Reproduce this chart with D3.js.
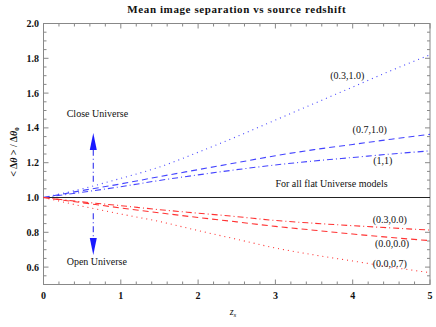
<!DOCTYPE html>
<html lang="en">
<head>
<meta charset="UTF-8">
<script src="https://cdn.jsdelivr.net/npm/d3@7"></script>
<style>
  body { margin: 0; background: #fff; }
  text { font-family: "Liberation Serif", "Times New Roman", serif; fill: #111; }
  .tick-label { font-weight: bold; font-size: 10px; }
  .note { font-size: 10px; }
</style>
</head>
<body>
<script>
// source redshift samples
const zs = [0, 0.5, 1, 1.5, 2, 2.5, 3, 3.5, 4, 4.5, 5];

// closed models (blue)
const close03_10 = [1.0, 1.05, 1.11, 1.175, 1.26, 1.35, 1.445, 1.54, 1.635, 1.73, 1.82];
const close07_10 = [1.0, 1.04, 1.078, 1.12, 1.16, 1.20, 1.24, 1.275, 1.305, 1.335, 1.363];
const close1_1   = [1.0, 1.03, 1.062, 1.098, 1.13, 1.16, 1.187, 1.21, 1.23, 1.25, 1.268];

// open models (red)
const open03_00 = [1.0, 0.975, 0.953, 0.93, 0.91, 0.89, 0.868, 0.852, 0.838, 0.825, 0.813];
const open00_00 = [1.0, 0.97, 0.94, 0.912, 0.885, 0.86, 0.834, 0.812, 0.79, 0.77, 0.752];
const open00_07 = [1.0, 0.95, 0.905, 0.862, 0.81, 0.76, 0.71, 0.67, 0.635, 0.60, 0.568];

const xTicks = [0, 1, 2, 3, 4, 5];
const yTicks = [0.6, 0.8, 1.0, 1.2, 1.4, 1.6, 1.8, 2.0];

const series = [
  {name: "(0.3,1.0)", vals: close03_10, color: "#4444ff", dash: "1,4", lz: 3.93, lv: 1.704},
  {name: "(0.7,1.0)", vals: close07_10, color: "#4444ff", dash: "6,4", lz: 4.22, lv: 1.388},
  {name: "(1,1)",     vals: close1_1,   color: "#4444ff", dash: "6,3,1,3", lz: 4.39, lv: 1.211},
  {name: "(0.3,0.0)", vals: open03_00,  color: "#ff3333", dash: "6,3,1,3", lz: 4.48, lv: 0.876},
  {name: "(0.0,0.0)", vals: open00_00,  color: "#ff3333", dash: "6,4", lz: 4.51, lv: 0.738},
  {name: "(0.0,0.7)", vals: open00_07,  color: "#ff3333", dash: "1,4", lz: 4.48, lv: 0.618}
];

const W = 436, H = 327;
const svg = d3.select("body").append("svg").attr("width", W).attr("height", H);

const x = d3.scaleLinear().domain([0, 5]).range([43.5, 430]);
const y = d3.scaleLinear().domain([0.5, 2.0]).range([284.5, 23.5]);

// title
svg.append("text")
  .attr("x", (x(0) + x(5)) / 2).attr("y", 13)
  .attr("text-anchor", "middle")
  .style("font-weight", "bold").style("font-size", "11px").style("letter-spacing", "0.6px")
  .text("Mean image separation vs source redshift");

// frame with mirrored ticks
const frame = svg.append("g");
const gray = "#888";
frame.append("rect")
  .attr("x", x(0)).attr("y", y(2.0))
  .attr("width", x(5) - x(0)).attr("height", y(0.5) - y(2.0))
  .attr("fill", "none").attr("stroke", gray).attr("stroke-width", 1);

const xMinor = d3.range(0, 5.001, 0.2).filter(v => Math.abs(v - Math.round(v)) > 1e-6);
const yMinor = d3.range(0.5, 2.001, 0.05).filter(v => Math.abs(v * 5 - Math.round(v * 5)) > 1e-6);

function xTickMarks(vals, len) {
  vals.forEach(v => {
    frame.append("line").attr("x1", x(v)).attr("x2", x(v))
      .attr("y1", y(0.5)).attr("y2", y(0.5) - len).attr("stroke", gray);
    frame.append("line").attr("x1", x(v)).attr("x2", x(v))
      .attr("y1", y(2.0)).attr("y2", y(2.0) + len).attr("stroke", gray);
  });
}
function yTickMarks(vals, len) {
  vals.forEach(v => {
    frame.append("line").attr("y1", y(v)).attr("y2", y(v))
      .attr("x1", x(0)).attr("x2", x(0) + len).attr("stroke", gray);
    frame.append("line").attr("y1", y(v)).attr("y2", y(v))
      .attr("x1", x(5)).attr("x2", x(5) - len).attr("stroke", gray);
  });
}
xTickMarks(xTicks, 5);
xTickMarks(xMinor, 3);
yTickMarks(yTicks, 5);
yTickMarks(yMinor, 3);

// tick labels
svg.selectAll(".xl").data(xTicks).join("text")
  .attr("class", "tick-label")
  .attr("x", d => x(d)).attr("y", 299)
  .attr("text-anchor", "middle")
  .text(d => d3.format("d")(d));

svg.selectAll(".yl").data(yTicks).join("text")
  .attr("class", "tick-label")
  .attr("x", 39).attr("y", d => y(d) + 3.5)
  .attr("text-anchor", "end")
  .text(d => d3.format(".1f")(d));

// axis titles
svg.append("text")
  .attr("x", 233).attr("y", 315)
  .attr("text-anchor", "middle").style("font-size", "10px")
  .html('<tspan font-style="italic">z</tspan><tspan font-size="7px" dy="2" font-style="italic">s</tspan>');

svg.append("text")
  .attr("transform", "translate(17,152) rotate(-90)")
  .attr("text-anchor", "middle").style("font-size", "10px").style("font-weight", "bold")
  .html('&lt; Δ<tspan font-style="italic">θ</tspan> &gt; / Δ<tspan font-style="italic">θ</tspan><tspan font-size="7px" dy="2">0</tspan>');

// reference line for flat models
svg.append("line")
  .attr("x1", x(0)).attr("x2", x(5))
  .attr("y1", y(1)).attr("y2", y(1))
  .attr("stroke", "#222").attr("stroke-width", 1);

// model curves
const line = d3.line().x((d, i) => x(zs[i])).y(d => y(d)).curve(d3.curveMonotoneX);
svg.selectAll(".curve").data(series).join("path")
  .attr("d", d => line(d.vals))
  .attr("fill", "none")
  .attr("stroke", d => d.color)
  .attr("stroke-width", 1.1)
  .attr("stroke-dasharray", d => d.dash);

svg.selectAll(".lab").data(series).join("text")
  .attr("class", "note")
  .attr("x", d => x(d.lz)).attr("y", d => y(d.lv) + 3.5)
  .attr("text-anchor", "middle")
  .text(d => d.name);

svg.append("text").attr("class", "note")
  .attr("x", x(3.0)).attr("y", y(1.078) + 3.5)
  .text("For all flat Universe models");

svg.append("text").attr("class", "note")
  .attr("x", x(0.3)).attr("y", y(1.48) + 3.5)
  .text("Close Universe");
svg.append("text").attr("class", "note")
  .attr("x", x(0.3)).attr("y", y(0.632) + 3.5)
  .text("Open Universe");

// arrows
const az = 0.644;
function arrow(v0, v1) {
  const dir = v1 > v0 ? -1 : 1; // pixel direction
  const tipY = y(v1), baseY = tipY - dir * 17;
  svg.append("line")
    .attr("x1", x(az)).attr("x2", x(az))
    .attr("y1", y(v0)).attr("y2", baseY)
    .attr("stroke", "#3333ee").attr("stroke-width", 1.1)
    .attr("stroke-dasharray", "6,3,1,3");
  svg.append("path")
    .attr("d", `M${x(az)},${tipY} L${x(az) - 3.5},${baseY} L${x(az) + 3.5},${baseY} Z`)
    .attr("fill", "#1a1aff");
}
arrow(1.09, 1.37);
arrow(0.91, 0.67);
</script>
</body>
</html>
